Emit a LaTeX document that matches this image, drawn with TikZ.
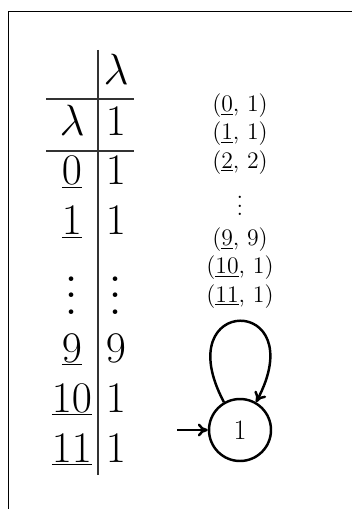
\documentclass[tikz,border=0pt]{standalone}
\usepackage{fix-cm}
\usepackage{graphicx}
\usetikzlibrary{arrows.meta}

\newcommand{\colvdots}[2]{\vbox{\fontsize{#1}{#2}\selectfont
  \baselineskip=#2pt \lineskiplimit=0pt \hbox{.}\hbox{.}\hbox{.}}}

\begin{document}
\begin{tikzpicture}[
  x=0.02cm, y=0.02cm,
  cell/.style={anchor=base, inner sep=0pt,
               font=\fontsize{24.88}{30}\selectfont},
  rule/.style={line width=0.9pt, black!80},
  lbl/.style={anchor=north, inner sep=0pt, align=center,
              font=\fontsize{13.5}{16.2}\selectfont},
  st/.style={draw, circle, line width=1.4pt, minimum size=1.24cm,
             inner sep=0pt, font=\fontsize{16}{18}\selectfont},
  arr/.style={-{To[length=2mm, width=2.6mm]}, line width=1.4pt}]

  \useasboundingbox (0,0) rectangle (352,-509);
  \draw[line width=1pt] (8.5,-509) -- (8.5,-11.5) -- (352,-11.5);

  % table
  \node[cell] (hd) at (116,-85) {$\lambda$};
  \foreach \y/\a/\b/\n in {136/\lambda/1/lam, 185/\underline{0}/1/d0,
      235/\underline{1}/1/d1, 362/\underline{9}/9/d9,
      412/\underline{10}/1/d10, 462/\underline{11}/1/d11}{
    \node[cell] (a-\n) at (72,-\y) {$\a$};
    \node[cell] (b-\n) at (116,-\y) {$\b$};
  }
  \node[cell] (a-dots) at (72,-314) {\colvdots{32}{9.2}};
  \node[cell] (b-dots) at (116,-314) {\colvdots{32}{9.2}};
  \draw[rule] (98,-50) -- (98,-475);
  \draw[rule] (46,-99) -- (134,-99);
  \draw[rule] (46,-151) -- (134,-151);

  % automaton
  \node[st] (q1) at (240,-430) {1};
  \coordinate (init) at (177,-430);
  \node[lbl] (lab) at (240,-93)
    {(\underline{0}, 1)\\ (\underline{1}, 1)\\ (\underline{2}, 2)\\[11pt]
     \colvdots{16}{4.8}\\[0.5pt]
     (\underline{9}, 9)\\ (\underline{10}, 1)\\ (\underline{11}, 1)};

  \draw[arr] (init) -- (q1.west);
  \draw[arr] (q1.120) .. controls +(118:2.45cm) and +(62:2.45cm) .. (q1.60);
\end{tikzpicture}
\end{document}
